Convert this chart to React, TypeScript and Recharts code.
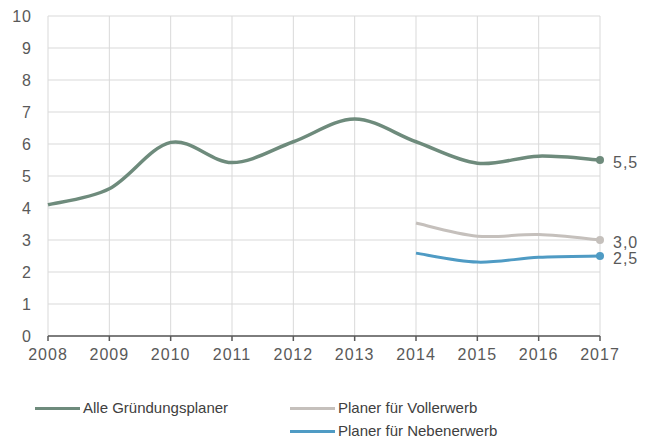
import { LineChart, Line, XAxis, YAxis, CartesianGrid, LabelList } from 'recharts';

const years = ['2008', '2009', '2010', '2011', '2012', '2013', '2014', '2015', '2016', '2017'];
const alle = [4.1, 4.6, 6.05, 5.42, 6.07, 6.78, 6.07, 5.4, 5.62, 5.5];
const vollerwerb = [null, null, null, null, null, null, 3.53, 3.12, 3.17, 3.0];
const nebenerwerb = [null, null, null, null, null, null, 2.59, 2.31, 2.46, 2.5];
const yTicks = [0, 1, 2, 3, 4, 5, 6, 7, 8, 9, 10];

const SERIES = [
  { key: 'alle', name: 'Alle Gründungsplaner', color: '#6e8b7c', width: 3.5 },
  { key: 'voll', name: 'Planer für Vollerwerb', color: '#c5c0bc', width: 3 },
  { key: 'neben', name: 'Planer für Nebenerwerb', color: '#4f9bc4', width: 3 },
];

const data = years.map((year, i) => ({
  year,
  alle: alle[i],
  voll: vollerwerb[i],
  neben: nebenerwerb[i],
}));

const TEXT = '#595959';
const tickStyle = { fill: TEXT, fontSize: 16, letterSpacing: 1 };

// Excel-style smoothed line (Catmull-Rom like bezier)
const smoothCurve = (context: any) => {
  let pts: number[][] = [];
  return {
    areaStart() {},
    areaEnd() {},
    lineStart() {
      pts = [];
    },
    point(x: number, y: number) {
      pts.push([+x, +y]);
    },
    lineEnd() {
      if (!pts.length) return;
      context.moveTo(pts[0][0], pts[0][1]);
      for (let i = 0; i < pts.length - 1; i++) {
        const p0 = pts[i - 1] || pts[i];
        const p1 = pts[i];
        const p2 = pts[i + 1];
        const p3 = pts[i + 2] || p2;
        const c1x = p1[0] + (p2[0] - p0[0]) / 6;
        const c1y = p1[1] + (p2[1] - p0[1]) / 6;
        const c2x = p2[0] - (p3[0] - p1[0]) / 6;
        const c2y = p2[1] - (p3[1] - p1[1]) / 6;
        context.bezierCurveTo(c1x, c1y, c2x, c2y, p2[0], p2[1]);
      }
    },
  };
};

const EndLabel = (props: any) => {
  const { x, y, value, index } = props;
  if (index !== years.length - 1 || value == null) return null;
  return (
    <text x={x + 13} y={y + 2} dominantBaseline="central" fill={TEXT} fontSize={16} letterSpacing={1}>
      {Number(value).toFixed(1).replace('.', ',')}
    </text>
  );
};

const LastDot = (color: string) => (props: any) => {
  const { cx, cy, index } = props;
  if (index !== years.length - 1) return <g key={index} />;
  return <circle key={index} cx={cx} cy={cy} r={4} fill={color} />;
};

const LegendItem = ({ s, left, top }: any) => (
  <div style={{ position: 'absolute', left, top, display: 'flex', alignItems: 'center' }}>
    <div style={{ width: 45, height: 3, background: s.color, marginRight: 3 }} />
    <span style={{ fontSize: 15, color: '#404040', lineHeight: '18px', whiteSpace: 'nowrap' }}>{s.name}</span>
  </div>
);

export default function App() {
  return (
    <div
      style={{
        position: 'absolute',
        left: 0,
        top: 0,
        width: 651,
        height: 441,
        fontFamily: '"Liberation Sans", Arial, sans-serif',
      }}
    >
      <LineChart width={651} height={441} data={data} margin={{ top: 16, right: 51, left: 8, bottom: 75 }}>
        <CartesianGrid stroke="#d9d9d9" strokeWidth={1} />
        <XAxis
          dataKey="year"
          height={30}
          stroke={TEXT}
          strokeWidth={1.5}
          tickSize={5}
          tickMargin={8}
          tick={tickStyle}
        />
        <YAxis
          width={40}
          domain={[0, 10]}
          ticks={yTicks}
          axisLine={false}
          tickLine={false}
          tickMargin={10}
          tick={tickStyle}
        />
        {SERIES.map((s) => (
          <Line
            key={s.key}
            dataKey={s.key}
            name={s.name}
            type={smoothCurve as any}
            stroke={s.color}
            strokeWidth={s.width}
            dot={LastDot(s.color)}
            activeDot={false}
            isAnimationActive={false}
          >
            <LabelList dataKey={s.key} content={<EndLabel />} />
          </Line>
        ))}
      </LineChart>
      <LegendItem s={SERIES[0]} left={35} top={399} />
      <LegendItem s={SERIES[1]} left={290} top={399} />
      <LegendItem s={SERIES[2]} left={290} top={422} />
    </div>
  );
}
